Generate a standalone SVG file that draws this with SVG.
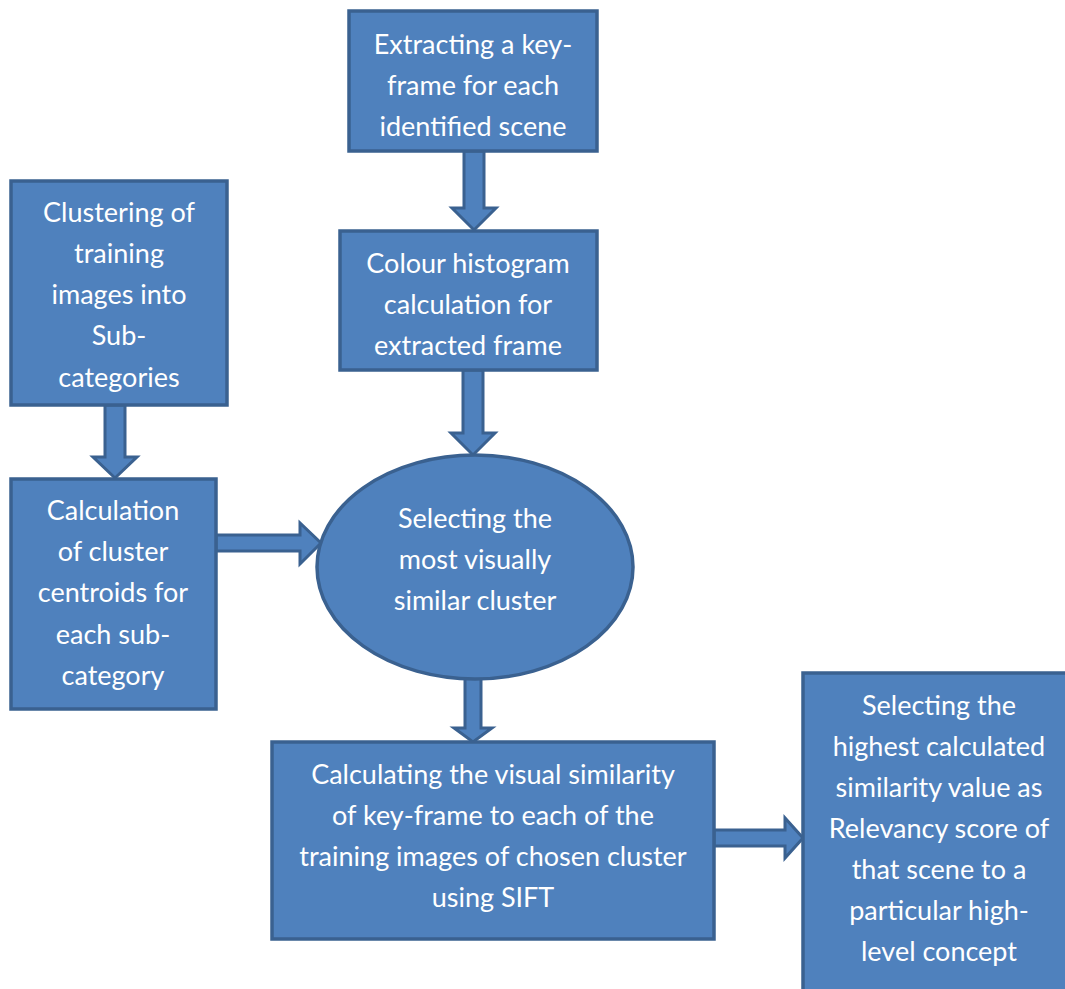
<svg xmlns="http://www.w3.org/2000/svg" width="1065" height="989" viewBox="0 0 1065 989">
  <style>
    .box { fill: #4f81bd; stroke: #3a6190; stroke-width: 3.5; }
    .arrow { fill: #4f81bd; stroke: #3a6190; stroke-width: 3; stroke-linejoin: miter; }
    .lbl { fill: #ffffff; font-family: Lato, "Open Sans", "Liberation Sans", sans-serif; font-size: 27px; text-anchor: middle; }
  </style>
  <rect width="1065" height="989" fill="#ffffff"/>

  <!-- connectors: block arrows -->
  <g id="connectors">
    <!-- key-frame -> colour histogram -->
    <path class="arrow" d="M464,151 L484,151 L484,208 L496,208 L474,230 L452,208 L464,208 Z"/>
    <!-- colour histogram -> ellipse -->
    <path class="arrow" d="M463,370 L483,370 L483,433 L495,433 L473,455 L451,433 L463,433 Z"/>
    <!-- clustering -> centroids -->
    <path class="arrow" d="M105,405 L125,405 L125,457 L137,457 L115,478 L93,457 L105,457 Z"/>
    <!-- centroids -> ellipse -->
    <path class="arrow" d="M216,535 L300,535 L300,523 L321,543 L300,564 L300,551 L216,551 Z"/>
    <!-- ellipse -> similarity calculation -->
    <path class="arrow" d="M465,678 L481,678 L481,728 L492,728 L473,742 L454,728 L465,728 Z"/>
    <!-- similarity calculation -> relevancy score -->
    <path class="arrow" d="M714,830 L785,830 L785,818 L803,838 L785,858 L785,846 L714,846 Z"/>
  </g>

  <g id="keyframe">
    <rect class="box" x="349" y="11" width="248" height="140"/>
    <text class="lbl" x="473" y="54">Extracting a key-</text>
    <text class="lbl" x="473" y="95">frame for each</text>
    <text class="lbl" x="473" y="136">identified scene</text>
  </g>

  <g id="histogram">
    <rect class="box" x="340" y="231" width="257" height="139"/>
    <text class="lbl" x="468" y="273">Colour histogram</text>
    <text class="lbl" x="468" y="314">calculation for</text>
    <text class="lbl" x="468" y="355">extracted frame</text>
  </g>

  <g id="clustering">
    <rect class="box" x="11" y="181" width="216" height="224"/>
    <text class="lbl" x="119" y="222">Clustering of</text>
    <text class="lbl" x="119" y="263">training</text>
    <text class="lbl" x="119" y="304">images into</text>
    <text class="lbl" x="119" y="345">Sub-</text>
    <text class="lbl" x="119" y="387">categories</text>
  </g>

  <g id="centroids">
    <rect class="box" x="11" y="479" width="205" height="230"/>
    <text class="lbl" x="113" y="520">Calculation</text>
    <text class="lbl" x="113" y="561">of cluster</text>
    <text class="lbl" x="113" y="602">centroids for</text>
    <text class="lbl" x="113" y="644">each sub-</text>
    <text class="lbl" x="113" y="685">category</text>
  </g>

  <g id="select-cluster">
    <ellipse class="box" cx="475" cy="567" rx="158" ry="112"/>
    <text class="lbl" x="475" y="528">Selecting the</text>
    <text class="lbl" x="475" y="569">most visually</text>
    <text class="lbl" x="475" y="610">similar cluster</text>
  </g>

  <g id="similarity">
    <rect class="box" x="272" y="742" width="442" height="197"/>
    <text class="lbl" x="493" y="784">Calculating the visual similarity</text>
    <text class="lbl" x="493" y="825">of key-frame to each of the</text>
    <text class="lbl" x="493" y="866">training images of chosen cluster</text>
    <text class="lbl" x="493" y="907">using SIFT</text>
  </g>

  <g id="relevancy">
    <rect class="box" x="803" y="673" width="270" height="330"/>
    <text class="lbl" x="939" y="715">Selecting the</text>
    <text class="lbl" x="939" y="756">highest calculated</text>
    <text class="lbl" x="939" y="797">similarity value as</text>
    <text class="lbl" x="939" y="838">Relevancy score of</text>
    <text class="lbl" x="939" y="879">that scene to a</text>
    <text class="lbl" x="939" y="920">particular high-</text>
    <text class="lbl" x="939" y="961">level concept</text>
  </g>
</svg>
